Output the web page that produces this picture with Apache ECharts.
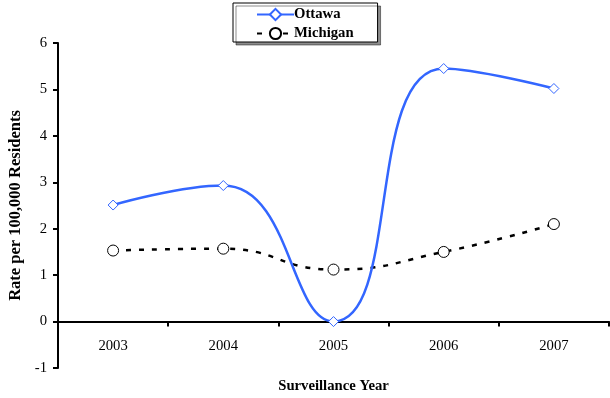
<!DOCTYPE html>
<html><head><meta charset="utf-8">
<script src="https://cdn.jsdelivr.net/npm/echarts@6/dist/echarts.min.js"></script>
<style>html,body{margin:0;padding:0;background:#fff}#c{width:610px;height:398px}</style>
</head><body><div id="c"></div>
<script>
var years = ['2003','2004','2005','2006','2007'];
var ottawa = [2.51, 2.93, 0.0, 5.45, 5.02];
var michigan = [1.53, 1.57, 1.12, 1.50, 2.10];
var yTicks = {min: -1, max: 6, interval: 1};

var chart = echarts.init(document.getElementById('c'));
var serif = '"Liberation Serif", "Times New Roman", serif';
chart.setOption({
  animation: false,
  backgroundColor: '#fff',
  grid: {left: 58, right: 1, top: 43, bottom: 30, containLabel: false, outerBoundsMode: 'none'},
  legend: {
    orient: 'vertical', left: 233, top: 3,
    padding: [4, 24, 1, 23],
    itemGap: 4, itemWidth: 37, itemHeight: 14,
    borderColor: '#000', borderWidth: 1,
    backgroundColor: '#fff',
    shadowColor: 'rgba(0,0,0,0.45)', shadowOffsetX: 3, shadowOffsetY: 3, shadowBlur: 0,
    textStyle: {fontFamily: serif, fontWeight: 'bold', fontSize: 14.7, color: '#000', padding: [0, 0, 0, -5]},
    data: ['Ottawa', 'Michigan']
  },
  xAxis: {
    type: 'category', data: years, boundaryGap: true,
    axisLine: {onZero: true, lineStyle: {color: '#000', width: 2}},
    axisTick: {show: true, length: 5, lineStyle: {color: '#000', width: 2}},
    axisLabel: {fontFamily: serif, fontSize: 14.7, color: '#000', margin: -29},
    name: 'Surveillance Year', nameLocation: 'middle', nameGap: 11,
    nameTextStyle: {fontFamily: serif, fontWeight: 'bold', fontSize: 14.7, color: '#000'}
  },
  yAxis: {
    type: 'value', min: yTicks.min, max: yTicks.max, interval: yTicks.interval,
    splitLine: {show: false},
    axisLine: {show: true, lineStyle: {color: '#000', width: 2}},
    axisTick: {show: true, length: 5, lineStyle: {color: '#000', width: 2}},
    axisLabel: {fontFamily: serif, fontSize: 14.7, color: '#000', margin: 11},
    name: 'Rate per 100,000 Residents', nameLocation: 'middle', nameGap: 31,
    nameTextStyle: {fontFamily: serif, fontWeight: 'bold', fontSize: 16.5, color: '#000'}
  },
  series: [
    {
      name: 'Ottawa', type: 'line', data: ottawa, smooth: 0.5,
      symbol: 'diamond', symbolSize: 10,
      itemStyle: {color: '#fff', borderColor: '#3366ff', borderWidth: 1},
      lineStyle: {color: '#3366ff', width: 2.5},
      z: 3
    },
    {
      name: 'Michigan', type: 'line', data: michigan, smooth: 0.5,
      symbol: 'circle', symbolSize: 11,
      itemStyle: {color: '#fff', borderColor: '#000', borderWidth: 1},
      lineStyle: {color: '#000', width: 2.5, type: [5, 8]},
      z: 2
    }
  ]
});
</script></body></html>
